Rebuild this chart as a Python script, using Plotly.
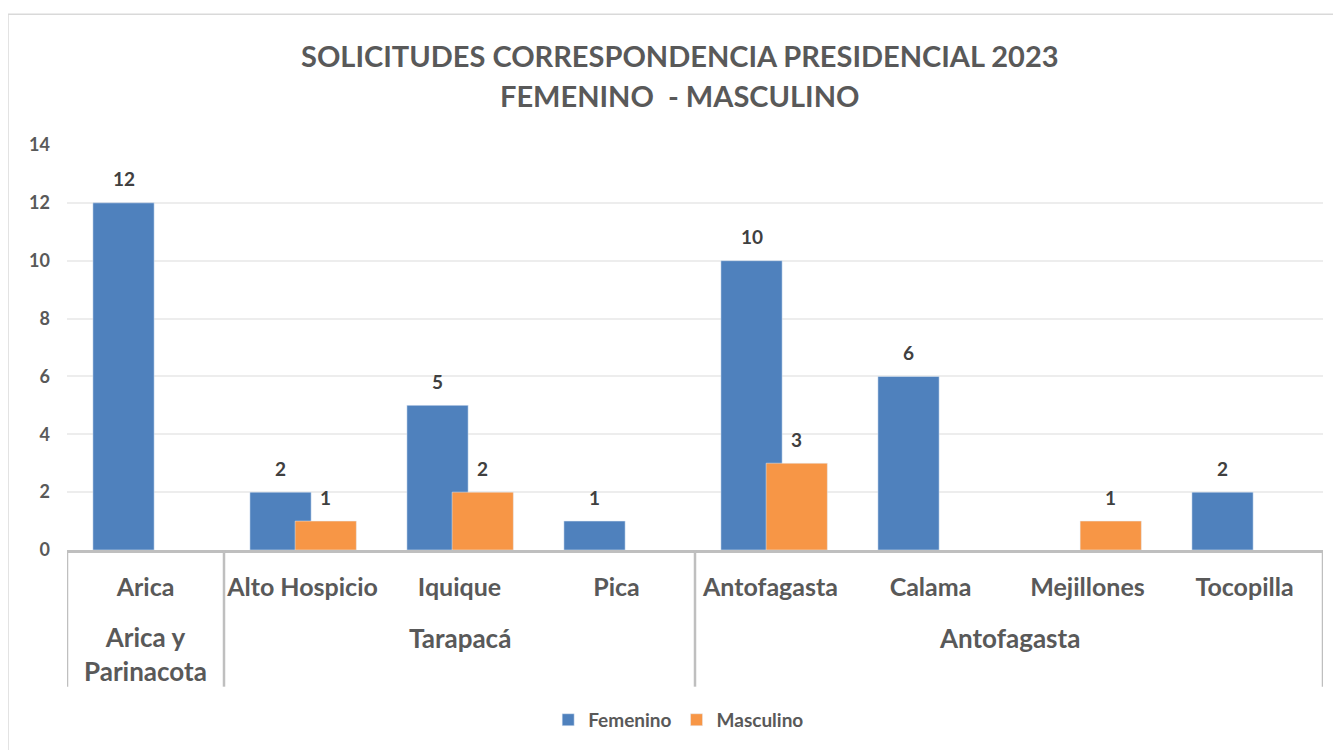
import plotly.graph_objects as go

regions = ["Arica y Parinacota", "Tarapacá", "Tarapacá", "Tarapacá",
           "Antofagasta", "Antofagasta", "Antofagasta", "Antofagasta"]
cities = ["Arica", "Alto Hospicio", "Iquique", "Pica",
          "Antofagasta ", "Calama", "Mejillones", "Tocopilla"]
femenino = [12, 2, 5, 1, 10, 6, None, 2]
masculino = [None, 1, 2, None, 3, None, 1, None]
region_labels = {"Arica y Parinacota": "Arica y<br>Parinacota",
                 "Tarapacá": "Tarapacá", "Antofagasta": "Antofagasta"}
title_lines = ["SOLICITUDES CORRESPONDENCIA PRESIDENCIAL 2023", "FEMENINO  - MASCULINO"]

FONT = "Lato"
BLUE = "#4F81BD"
ORANGE = "#F79646"
BAR_W = 0.39
OFF_F = -0.335
OFF_M = -0.047

fig = go.Figure()
fig.add_trace(go.Bar(x=cities, y=femenino, name="Femenino", marker_color=BLUE,
                     width=BAR_W, offset=OFF_F))
fig.add_trace(go.Bar(x=cities, y=masculino, name="Masculino", marker_color=ORANGE,
                     width=BAR_W, offset=OFF_M))

annotations = []
# data labels
for series, off in ((femenino, OFF_F), (masculino, OFF_M)):
    for i, v in enumerate(series):
        if v is None:
            continue
        annotations.append(dict(x=i + off + BAR_W / 2, y=v, xref="x", yref="y",
                                text=f"<b>{v}</b>", showarrow=False, yanchor="middle",
                                yshift=24, font=dict(family=FONT, size=19, color="#404040")))

# region group labels and dividers
groups = []
for i, r in enumerate(regions):
    if groups and groups[-1][0] == r:
        groups[-1][2] = i
    else:
        groups.append([r, i, i])

shapes = []
for r, a, b in groups:
    lab = region_labels[r]
    two = "<br>" in lab
    annotations.append(dict(x=(a + b) / 2, y=-0.256 if two else -0.217, xref="x", yref="paper",
                            text=f"<b>{lab}</b>", showarrow=False, yanchor="middle",
                            font=dict(family=FONT, size=26, color="#595959")))
    shapes.append(dict(type="line", xref="x", yref="paper", x0=a - 0.5, x1=a - 0.5,
                       y0=0, y1=-0.3375, line=dict(color="#BFBFBF", width=2.5)))
shapes.append(dict(type="line", xref="x", yref="paper", x0=len(cities) - 0.5,
                   x1=len(cities) - 0.5, y0=0, y1=-0.3375,
                   line=dict(color="#BFBFBF", width=2.5)))
# outer chart border
shapes.append(dict(type="rect", xref="paper", yref="paper", x0=-0.047, x1=1.2,
                   y0=-1.0, y1=1.3227, line=dict(color="#D9D9D9", width=1.5),
                   fillcolor="rgba(0,0,0,0)", layer="below"))

# title lines (plot area spans page px 67..1323 horizontally, 145..551 vertically)
for k, t in enumerate(title_lines):
    ypix = 55 + 40 * k
    annotations.append(dict(x=(679.5 - 67) / 1256, y=(551 - ypix) / 406,
                            xref="paper", yref="paper", text=f"<b>{t}</b>",
                            showarrow=False, yanchor="middle", xanchor="center",
                            font=dict(family=FONT, size=29, color="#595959")))

fig.update_layout(
    width=1333, height=742,
    margin=dict(l=59, r=18, t=137, b=199),
    plot_bgcolor="white", paper_bgcolor="white",
    barmode="overlay",
    showlegend=True,
    legend=dict(orientation="h", x=0.487, xanchor="center", y=-0.416, yanchor="middle",
                font=dict(family=FONT, size=19, color="#595959", weight="bold"),
                traceorder="normal"),
    xaxis=dict(type="category", range=[-0.5, len(cities) - 0.5], showline=True,
               linecolor="#BFBFBF", linewidth=2.5, showgrid=False, ticks="",
               ticklabelstandoff=13,
               tickfont=dict(family=FONT, size=25, color="#595959", weight="bold")),
    yaxis=dict(range=[0, 14], dtick=2, showgrid=True, gridcolor="#EDEDED", gridwidth=1.5,
               zeroline=False, showline=False, ticks="", ticklabelstandoff=16,
               tickfont=dict(family=FONT, size=18, color="#595959", weight="bold")),
    annotations=annotations,
    shapes=shapes,
    font=dict(family=FONT),
)

fig.write_html("out.html")
